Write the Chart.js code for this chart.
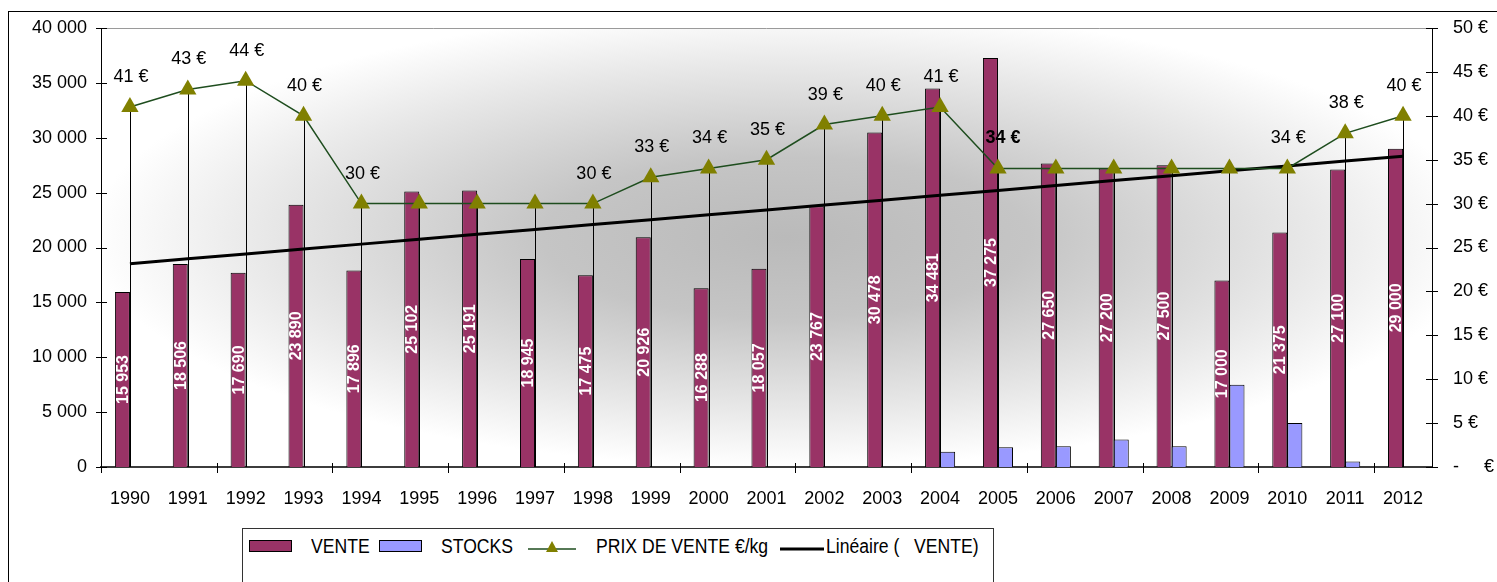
<!DOCTYPE html>
<html>
<head>
<meta charset="utf-8">
<script src="https://cdn.jsdelivr.net/npm/chart.js@4.4.0/dist/chart.umd.min.js"></script>
<style>
  body { margin: 0; background: #fff; overflow: hidden; }
  #cadre { position: absolute; left: 8px; top: 11px; width: 1700px; height: 800px; border: 1px solid #000; }
  #graph { position: absolute; left: 0; top: 0; }
  #legende { position: absolute; left: 242px; top: 528px; width: 750px; height: 100px; border: 1px solid #333; background: #fff;
    font-family: "Liberation Sans", Arial, sans-serif; font-size: 20px; color: #000; }
  #legende .it { position: absolute; top: 6px; line-height: 22px; white-space: pre; transform: scaleX(0.88); transform-origin: 0 50%; }
  .carre { position: absolute; top: 11px; width: 41px; height: 10px; border: 1px solid #000; }
</style>
</head>
<body>
<div id="cadre"></div>
<canvas id="graph" width="1497" height="582"></canvas>
<div id="legende">
  <div class="carre" style="left:6px;background:#993366"></div>
  <div class="it" style="left:68px">VENTE</div>
  <div class="carre" style="left:136px;background:#9999ff"></div>
  <div class="it" style="left:198px">STOCKS</div>
  <svg style="position:absolute;left:285px;top:8px" width="48" height="20">
    <line x1="0" y1="12" x2="48" y2="12" stroke="#1e4d1e" stroke-width="1.5"/>
    <polygon points="24,4 30,15 18,15" fill="#808000"/>
  </svg>
  <div class="it" style="left:353px">PRIX DE VENTE €/kg</div>
  <svg style="position:absolute;left:537px;top:8px" width="44" height="20">
    <line x1="0" y1="12" x2="44" y2="12" stroke="#000" stroke-width="3"/>
  </svg>
  <div class="it" style="left:583px">Linéaire (   VENTE)</div>
</div>
<script>
const annees = ['1990','1991','1992','1993','1994','1995','1996','1997','1998','1999','2000','2001',
                '2002','2003','2004','2005','2006','2007','2008','2009','2010','2011','2012'];
const vente = [15953, 18506, 17690, 23890, 17896, 25102, 25191, 18945, 17475, 20926, 16288, 18057,
               23767, 30478, 34481, 37275, 27650, 27200, 27500, 17000, 21375, 27100, 29000];
const stocks = [null, null, null, null, null, null, null, null, null, null, null, null,
                null, null, 1400, 1800, 1900, 2500, 1900, 7500, 4000, 500, null];
const prix = [41, 43, 44, 40, 30, 30, 30, 30, 30, 33, 34, 35, 39, 40, 41, 34, 34, 34, 34, 34, 34, 38, 40];
// 1 = étiquette affichée, 2 = étiquette en gras, 0 = pas d'étiquette
const prixEtiquette = [1, 1, 1, 1, 1, 0, 0, 0, 1, 1, 1, 1, 1, 1, 1, 2, 0, 0, 0, 0, 1, 1, 1];

const police = '"Liberation Sans", Arial, sans-serif';

function milliers(v) {
    return String(v).replace(/\B(?=(\d{3})+(?!\d))/g, ' ');
}

// droite de tendance linéaire (moindres carrés) sur les ventes
function tendance(vals) {
    const n = vals.length;
    let sx = 0, sy = 0, sxy = 0, sxx = 0;
    vals.forEach((y, x) => { sx += x; sy += y; sxy += x * y; sxx += x * x; });
    const pente = (n * sxy - sx * sy) / (n * sxx - sx * sx);
    const origine = (sy - pente * sx) / n;
    return vals.map((_, x) => origine + pente * x);
}

const fond = {
    id: 'fond',
    beforeDraw(chart) {
        const { ctx, chartArea: a } = chart;
        ctx.save();
        ctx.beginPath();
        ctx.rect(a.left, a.top, a.right - a.left, a.bottom - a.top);
        ctx.clip();
        const cx = (a.left + a.right) / 2 + 20, cy = (a.top + a.bottom) / 2 - 10;
        const rx = (a.right - a.left) / 2 + 30, ry = (a.bottom - a.top) / 2 + 10;
        ctx.translate(cx, cy);
        ctx.scale(rx / ry, 1);
        const g = ctx.createRadialGradient(0, 0, 0, 0, 0, ry);
        g.addColorStop(0, '#bababa');
        g.addColorStop(0.35, '#c5c5c5');
        g.addColorStop(0.75, '#e8e8e8');
        g.addColorStop(1, '#ffffff');
        ctx.fillStyle = g;
        ctx.fillRect(-ry * 3, -ry * 3, ry * 6, ry * 6);
        ctx.restore();
        ctx.save();
        ctx.strokeStyle = '#9a9a9a';
        ctx.lineWidth = 1;
        ctx.beginPath();
        ctx.moveTo(a.left, a.top + 0.5);
        ctx.lineTo(a.right, a.top + 0.5);
        ctx.stroke();
        ctx.restore();
    },
    beforeDatasetsDraw(chart) {
        // lignes de projection des prix
        const { ctx, chartArea: a } = chart;
        const meta = chart.getDatasetMeta(3);
        ctx.save();
        ctx.strokeStyle = '#000';
        ctx.lineWidth = 1;
        meta.data.forEach((p) => {
            const x = Math.round(p.x) + 0.5;
            ctx.beginPath();
            ctx.moveTo(x, p.y);
            ctx.lineTo(x, a.bottom);
            ctx.stroke();
        });
        ctx.restore();
    },
    afterDatasetDraw(chart, args) {
        if (args.index !== 0) return;
        const ctx = chart.ctx;
        ctx.save();
        ctx.fillStyle = '#fff';
        ctx.font = 'bold 16px ' + police;
        ctx.textAlign = 'center';
        ctx.textBaseline = 'middle';
        args.meta.data.forEach((bar, i) => {
            ctx.save();
            ctx.translate(bar.x + 1, (bar.y + bar.base) / 2);
            ctx.rotate(-Math.PI / 2);
            ctx.fillText(milliers(vente[i]), 0, 0);
            ctx.restore();
        });
        ctx.restore();
    },
    afterDatasetsDraw(chart) {
        const ctx = chart.ctx;
        const meta = chart.getDatasetMeta(3);
        ctx.save();
        ctx.fillStyle = '#000';
        ctx.textAlign = 'center';
        ctx.textBaseline = 'middle';
        meta.data.forEach((p, i) => {
            if (!prixEtiquette[i]) return;
            const gras = prixEtiquette[i] === 2;
            ctx.font = (gras ? 'bold ' : '') + '18px ' + police;
            ctx.fillText(prix[i] + ' €', p.x + (gras ? 5 : 1), p.y - 30);
        });
        ctx.restore();
    },
    afterDraw(chart) {
        // graduations traversant les axes
        const { ctx, chartArea: a, scales } = chart;
        ctx.save();
        ctx.strokeStyle = '#000';
        ctx.lineWidth = 1;
        ctx.beginPath();
        scales.y.ticks.forEach((t) => {
            const y = Math.round(scales.y.getPixelForValue(t.value)) + 0.5;
            ctx.moveTo(a.left - 5, y);
            ctx.lineTo(a.left + 6, y);
        });
        scales.y1.ticks.forEach((t) => {
            const y = Math.round(scales.y1.getPixelForValue(t.value)) + 0.5;
            ctx.moveTo(a.right - 6, y);
            ctx.lineTo(a.right + 6, y);
        });
        for (let k = 0; k <= annees.length; k += 2) {
            const x = Math.round(scales.x.getPixelForValue(k - 0.5)) + 0.5;
            ctx.moveTo(x, a.bottom - 4);
            ctx.lineTo(x, a.bottom + 6);
        }
        ctx.stroke();
        ctx.restore();
    }
};

const data = {
    labels: annees,
    datasets: [
        {
            label: 'VENTE',
            data: vente,
            backgroundColor: '#993366',
            borderColor: '#000',
            borderWidth: 1,
            order: 3,
            yAxisID: 'y'
        },
        {
            label: 'STOCKS',
            data: stocks,
            backgroundColor: '#9999ff',
            borderColor: '#000',
            borderWidth: 1,
            order: 4,
            yAxisID: 'y'
        },
        {
            type: 'line',
            label: 'Linéaire (   VENTE)',
            data: tendance(vente),
            borderColor: '#000',
            borderWidth: 3,
            pointRadius: 0,
            order: 2,
            yAxisID: 'y'
        },
        {
            type: 'line',
            label: 'PRIX DE VENTE €/kg',
            data: prix,
            borderColor: '#1e4d1e',
            borderWidth: 1.5,
            pointStyle: 'triangle',
            pointRadius: 10,
            pointBackgroundColor: '#808000',
            pointBorderColor: '#808000',
            pointBorderWidth: 0,
            order: 1,
            yAxisID: 'y1'
        }
    ]
};

function fixeAxeY(largeur) {
    return (s) => {
        s.width = largeur;
        s.paddingTop = 0;
        s.paddingBottom = 0;
    };
}

const options = {
    responsive: false,
    animation: false,
    layout: { padding: { top: 28, left: 0, right: 0, bottom: 0 } },
    plugins: {
        legend: { display: false },
        tooltip: { enabled: false }
    },
    datasets: {
        bar: { barPercentage: 1, categoryPercentage: 0.52 }
    },
    scales: {
        x: {
            grid: { display: false, drawTicks: false },
            border: { display: true, color: '#3c3c3c', width: 2 },
            ticks: { color: '#000', font: { family: police, size: 18 }, padding: 21, maxRotation: 0, autoSkip: false },
            afterFit: (s) => { s.height = 115; s.paddingLeft = 0; s.paddingRight = 0; }
        },
        y: {
            position: 'left',
            min: 0,
            max: 40000,
            grid: { display: false, drawTicks: false },
            border: { display: true, color: '#000', width: 1 },
            ticks: {
                stepSize: 5000,
                color: '#000',
                padding: 14,
                font: { family: police, size: 18 },
                callback: (v) => milliers(v)
            },
            afterFit: fixeAxeY(101)
        },
        y1: {
            position: 'right',
            min: 0,
            max: 50,
            grid: { display: false, drawTicks: false },
            border: { display: true, color: '#000', width: 1 },
            ticks: {
                stepSize: 5,
                color: '#000',
                padding: 21,
                font: { family: police, size: 18 },
                callback: (v) => (v === 0 ? '-     €' : v + ' €')
            },
            afterFit: fixeAxeY(65)
        }
    }
};

new Chart(document.getElementById('graph'), {
    type: 'bar',
    data: data,
    options: options,
    plugins: [fond]
});
</script>
</body>
</html>
